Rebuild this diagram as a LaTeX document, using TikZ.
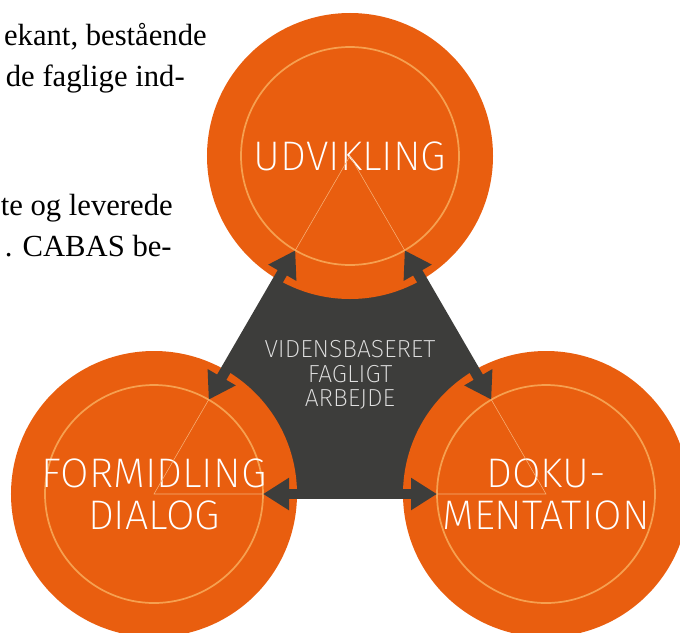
\documentclass[tikz,border=0pt]{standalone}
\usepackage{fontspec}
\setmainfont{Liberation Serif}
\setsansfont{Fira Sans}[UprightFont=* ExtraLight]
\usepackage{tikz}
\usetikzlibrary{arrows.meta,positioning,calc,backgrounds}
\definecolor{cborange}{RGB}{233,94,15}
\definecolor{cbring}{RGB}{246,160,80}
\definecolor{cbline}{RGB}{247,178,120}
\definecolor{cbdark}{RGB}{61,61,59}
\definecolor{cbgrey}{RGB}{225,225,225}
\tikzstyle{disc} = [circle, fill=cborange, minimum size=214.5pt, inner sep=0pt, text=white, align=center, font=\sffamily\fontsize{31}{31.5}\selectfont, path picture={\draw[cbring, line width=1.3pt] (path picture bounding box.center) circle[radius=81.75pt];}]
\tikzstyle{sideline} = [cbline, line width=0.4pt]
\tikzstyle{dblarrow} = [line width=8pt, {Triangle[length=19.5pt, width=23pt]}-{Triangle[length=19.5pt, width=23pt]}, color=cbdark]
\tikzstyle{kernel} = [fill=cbdark]
\tikzstyle{bodytext} = [anchor=base east, inner sep=0pt, font=\fontsize{23}{26}\selectfont]

\begin{document}
\begin{tikzpicture}[on grid]
\useasboundingbox (-262.5pt,117pt) rectangle (247.5pt,-357pt);
\clip (-262.5pt,117pt) rectangle (247.5pt,-357pt);
% de tre cirkler
\node (udvikling) [disc] {UDVIKLING};
\node (formidling) [disc, below left=253.5pt and 147pt of udvikling] {FORMIDLING\\DIALOG};
\node (dokumentation) [disc, below right=253.5pt and 147pt of udvikling] {DOKU-\\MENTATION};
\node (kerne) [below=164.25pt of udvikling, text=cbgrey, align=center, font=\sffamily\fontsize{18.5}{18.6}\selectfont] {VIDENSBASERET\\FAGLIGT\\ARBEJDE};

\begin{scope}[on background layer]
\fill[kernel] (udvikling.center) -- (formidling.center) -- (dokumentation.center) -- cycle;
\end{scope}

\draw[sideline] (udvikling.center) -- (formidling.center) -- (dokumentation.center) -- cycle;

% pile mellem ringene
\draw[dblarrow] ($(udvikling)!81.75pt!(formidling)$) -- ($(formidling)!81.75pt!(udvikling)$);
\draw[dblarrow] ($(formidling)!81.75pt!(dokumentation)$) -- ($(dokumentation)!81.75pt!(formidling)$);
\draw[dblarrow] ($(dokumentation)!81.75pt!(udvikling)$) -- ($(udvikling)!81.75pt!(dokumentation)$);

% broedtekst
\node (rad1) [bodytext] at (-107.25pt,83.25pt) {ekant, bestående};
\node (rad2) [bodytext] at (-123.75pt,52.5pt) {de faglige ind-};
\node (rad3) [bodytext] at (-132.75pt,-44.25pt) {te og leverede};
\node (rad4) [bodytext] at (-133.5pt,-75pt) {. CABAS be-};
\end{tikzpicture}
\end{document}
